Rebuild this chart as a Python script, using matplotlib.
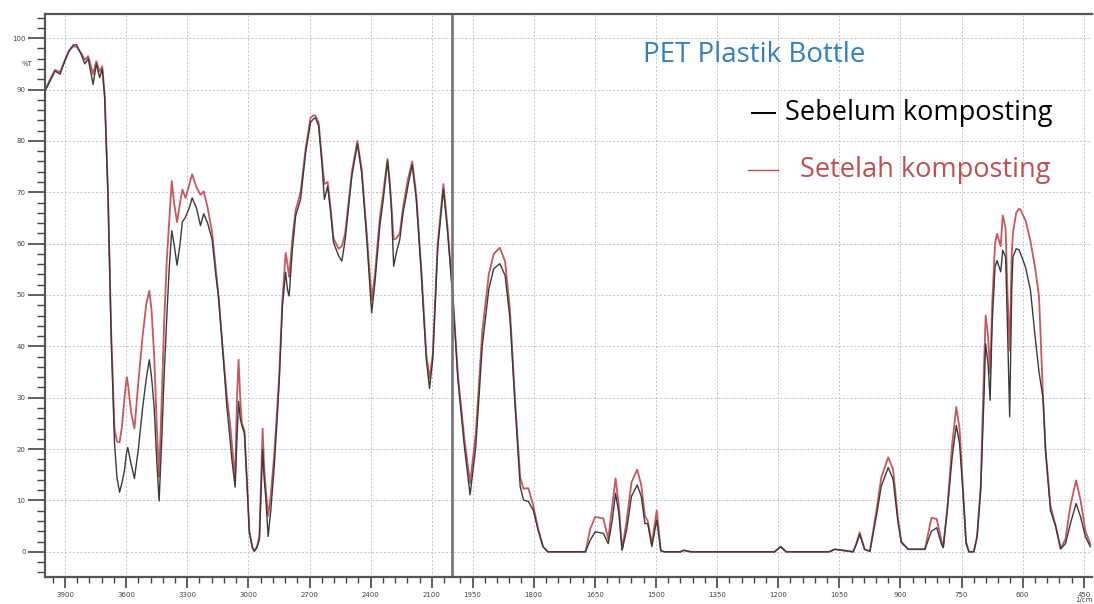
import numpy as np
import matplotlib
matplotlib.use("Agg")
import matplotlib.pyplot as plt

# -------------------------------
# FTIR DATA
# -------------------------------

wavenumber = [
    4000, 3975, 3949, 3924, 3900, 3880, 3859, 3843, 3819, 3803, 3786, 3762,
    3746, 3730, 3717, 3705, 3689, 3673, 3657, 3645, 3632, 3620, 3608, 3597,
    3592, 3575, 3559, 3540, 3519, 3500, 3486, 3475, 3462, 3450, 3438, 3425,
    3413, 3400, 3389, 3376, 3365, 3350, 3335, 3324, 3308, 3290, 3276, 3255,
    3235, 3219, 3200, 3178, 3160, 3146, 3130, 3118, 3105, 3090, 3081, 3065,
    3056, 3048, 3040, 3032, 3019, 3005, 2995, 2980, 2971, 2958, 2946, 2930,
    2922, 2914, 2903, 2890, 2873, 2860, 2849, 2833, 2817, 2808, 2800, 2784,
    2768, 2744, 2719, 2695, 2680, 2671, 2655, 2638, 2627, 2611, 2598, 2582,
    2557, 2541, 2525, 2492, 2465, 2444, 2419, 2395, 2379, 2355, 2338, 2317,
    2306, 2298, 2287, 2274, 2257, 2241, 2217, 2196, 2176, 2152, 2127, 2111,
    2095, 2071, 2043, 2022, 1998, 1986, 1970, 1956, 1942, 1926, 1910, 1898,
    1883, 1870, 1858, 1846, 1833, 1825, 1813, 1801, 1789, 1777, 1765, 1673,
    1661, 1649, 1629, 1617, 1607, 1599, 1591, 1583, 1572, 1560, 1546, 1536,
    1527, 1520, 1510, 1498, 1488, 1480, 1440, 1432, 1414, 1209, 1194, 1180,
    1075, 1061, 1016, 1008, 1000, 988, 975, 959, 947, 930, 918, 906,
    898, 881, 840, 824, 811, 799, 795, 785, 773, 763, 755, 747,
    739, 732, 720, 712, 703, 695, 691, 685, 680, 675, 668, 663,
    654, 649, 642, 638, 632, 627, 624, 616, 609, 605, 593, 581,
    569, 560, 550, 544, 532, 519, 507, 495, 483, 469, 458, 446,
    434,
]

sebelum = [
    89.6, 91.5, 93.6, 93.0, 95.6, 97.5, 98.7, 98.7, 96.7, 95.0, 96.0, 91.0,
    95.0, 92.3, 94.0, 88.3, 69.5, 41.4, 21.3, 14.5, 11.6, 13.5, 15.9, 19.5,
    20.3, 17.0, 14.3, 20.0, 28.0, 34.0, 37.4, 34.0, 28.0, 18.0, 9.9, 22.0,
    34.7, 46.0, 54.8, 62.5, 60.0, 55.8, 60.0, 64.2, 65.2, 67.0, 68.9, 67.0,
    63.5, 65.8, 64.0, 60.8, 54.0, 49.4, 41.4, 35.0, 28.0, 22.0, 18.0, 12.6,
    22.0, 29.3, 26.0, 24.6, 23.0, 12.0, 3.7, 0.8, 0.1, 0.8, 2.4, 19.9,
    14.0, 10.2, 3.0, 8.0, 16.7, 25.0, 32.9, 47.9, 54.4, 51.0, 49.8, 58.9,
    65.4, 68.6, 77.7, 83.6, 84.3, 84.5, 82.9, 75.1, 68.6, 71.2, 66.7, 60.2,
    57.6, 56.6, 60.8, 73.2, 79.4, 73.8, 60.8, 46.5, 52.4, 63.4, 68.6, 76.1,
    71.2, 66.7, 55.6, 58.2, 60.8, 66.0, 71.2, 75.4, 68.6, 54.4, 37.5, 31.8,
    37.5, 58.9, 70.6, 62.1, 49.2, 33.6, 20.5, 11.1, 20.5, 40.1, 51.2, 55.1,
    56.1, 53.8, 45.3, 29.0, 12.7, 10.1, 9.8, 8.1, 4.2, 1.0, 0.0, 0.0,
    2.3, 3.9, 3.6, 1.6, 6.2, 11.4, 7.5, 0.3, 4.2, 10.8, 13.0, 10.8,
    5.5, 5.5, 1.0, 6.2, 0.2, 0.0, 0.0, 0.3, 0.0, 0.0, 1.0, 0.0,
    0.0, 0.5, 0.0, 1.5, 3.4, 0.5, 0.1, 7.0, 12.8, 16.4, 14.1, 5.7,
    1.8, 0.5, 0.5, 4.0, 4.7, 1.4, 0.8, 8.1, 18.5, 24.6, 21.1, 12.0,
    1.6, 0.0, 0.0, 2.9, 12.0, 30.2, 40.5, 36.6, 29.5, 44.4, 55.4, 56.7,
    54.5, 58.7, 57.4, 45.7, 26.3, 50.9, 57.4, 59.0, 58.8, 58.0, 55.4, 50.9,
    41.5, 35.0, 29.8, 19.8, 8.1, 4.9, 0.6, 1.6, 5.5, 9.4, 6.8, 2.9,
    1.0,
]

setelah = [
    89.6, 91.8, 93.8, 93.4, 95.8, 97.6, 98.4, 98.3, 97.0, 95.8, 96.5, 93.0,
    95.5, 93.5, 94.5, 89.0, 70.0, 42.5, 24.0, 21.5, 21.3, 24.5, 30.0, 34.0,
    33.0, 27.0, 24.0, 33.0, 42.0, 48.5, 50.8, 47.0, 38.0, 25.0, 14.6, 30.0,
    45.0, 57.0, 64.0, 72.2, 68.0, 64.2, 68.0, 70.5, 68.9, 71.5, 73.5, 71.0,
    69.5, 70.2, 67.0, 62.2, 55.0, 49.6, 41.5, 36.0, 30.0, 25.0, 21.0, 14.0,
    30.0, 37.4, 30.0, 25.0, 23.5, 12.0, 4.0, 0.8, 0.2, 1.0, 3.0, 24.0,
    16.0, 12.0, 7.0, 11.0, 19.0, 27.0, 34.0, 49.0, 58.2, 56.0, 53.5, 61.0,
    66.5, 70.0, 78.5, 84.5, 85.0, 84.9, 83.5, 76.0, 71.6, 72.0, 67.5, 61.0,
    59.0, 59.5, 62.0, 74.0, 80.0, 74.5, 62.0, 49.0, 54.0, 65.0, 70.0, 76.5,
    72.0, 67.5, 60.8, 61.0, 62.0, 67.0, 72.5, 76.0, 69.5, 55.5, 38.5, 33.8,
    38.5, 60.0, 71.6, 63.0, 49.5, 34.5, 22.0, 13.4, 23.0, 43.0, 54.0, 58.0,
    59.2, 56.5, 47.0, 30.0, 14.5, 12.3, 12.4, 9.0, 4.5, 1.0, 0.0, 0.0,
    4.5, 6.8, 6.5, 2.5, 9.0, 14.3, 9.0, 0.5, 6.0, 13.5, 16.0, 13.0,
    7.0, 6.0, 1.5, 8.1, 0.3, 0.0, 0.0, 0.3, 0.0, 0.0, 1.0, 0.0,
    0.0, 0.5, 0.0, 1.7, 3.8, 0.5, 0.1, 8.0, 14.5, 18.4, 16.0, 6.5,
    2.0, 0.5, 0.5, 6.6, 6.4, 2.0, 1.0, 8.5, 21.0, 28.2, 24.0, 13.0,
    2.0, 0.0, 0.0, 3.0, 13.0, 36.0, 46.0, 42.0, 34.7, 48.0, 60.0, 61.9,
    59.5, 65.5, 63.0, 52.0, 39.2, 58.0, 62.0, 66.0, 66.8, 66.5, 64.5, 60.5,
    55.0, 49.7, 29.8, 19.8, 9.0, 5.0, 0.6, 2.5, 9.0, 13.9, 10.0, 4.0,
    1.5,
]

x_major = [3900, 3600, 3300, 3000, 2700, 2400, 2100, 1950, 1800, 1650,
           1500, 1350, 1200, 1050, 900, 750, 600, 450]
y_major = [0, 10, 20, 30, 40, 50, 60, 70, 80, 90, 100]


# spectrometer axis: 2000 cm-1 break, right part drawn at double scale
def fwd(w):
    w = np.asarray(w, dtype=float)
    return np.where(w >= 2000, w, 2 * w - 2000)


def inv(u):
    u = np.asarray(u, dtype=float)
    return np.where(u >= 2000, u, (u + 2000) / 2)


fig = plt.figure(figsize=(10.94, 6.04), dpi=100)
ax = fig.add_axes([45 / 1094, 1 - 577 / 604, (1092 - 45) / 1094, (577 - 14) / 604])

ax.set_xscale('function', functions=(fwd, inv))
ax.set_xlim(3998, 430)
ax.set_ylim(-4.9, 104.7)

ax.plot(wavenumber, setelah, color='#c9575d', lw=1.3)
ax.plot(wavenumber, sebelum, color='#3a3a3a', lw=1.0)

ax.axvline(2000, color='#7a7a7a', lw=2)

ax.set_xticks(x_major)
ax.set_xticklabels([str(v) for v in x_major])
minor_x = list(range(3960, 2000, -60)) + list(range(1980, 430, -30))
ax.set_xticks(minor_x, minor=True)
ax.set_yticks(y_major)
ax.set_yticks(list(range(-4, 105, 2)), minor=True)

ax.tick_params(axis='y', which='major', length=12, width=1.2, labelsize=5,
               colors='#444444', pad=2)
ax.tick_params(axis='y', which='minor', length=6, width=1.0, colors='#444444')
ax.tick_params(axis='x', which='major', length=8, width=1.2, labelsize=5,
               colors='#444444', pad=3)
ax.tick_params(axis='x', which='minor', length=4, width=1.0, colors='#444444')

ax.grid(True, which='major', color='#c4c4c4', lw=0.7, ls=(0, (2, 2)))

for side in ['left', 'bottom', 'top']:
    ax.spines[side].set_color('#555555')
    ax.spines[side].set_linewidth(1.6)
ax.spines['right'].set_visible(False)

ax.text(-0.012, 95, '%T', transform=ax.get_yaxis_transform(), fontsize=5,
        color='#444444', ha='right', va='center')

# annotations
fig.text(643 / 1094, 1 - 55 / 604, 'PET Plastik Bottle', color='#2e80c0',
         fontsize=20, family='Open Sans', ha='left', va='center')
fig.text(785 / 1094, 1 - 113 / 604, 'Sebelum komposting', color='black',
         fontsize=19.5, family='Open Sans', ha='left', va='center')
fig.text(800 / 1094, 1 - 170 / 604, 'Setelah komposting', color='#c0504d',
         fontsize=19.5, family='Open Sans', ha='left', va='center')
fig.add_artist(plt.Line2D([752 / 1094, 775 / 1094], [1 - 113 / 604] * 2,
                          color='black', lw=1.4))
fig.add_artist(plt.Line2D([748 / 1094, 778 / 1094], [1 - 170 / 604] * 2,
                          color='#c0504d', lw=1.0))

fig.text(1093 / 1094, 0.002, '1/cm', color='#444444', fontsize=5,
         ha='right', va='bottom')

fig.savefig('out.png', dpi=100)
